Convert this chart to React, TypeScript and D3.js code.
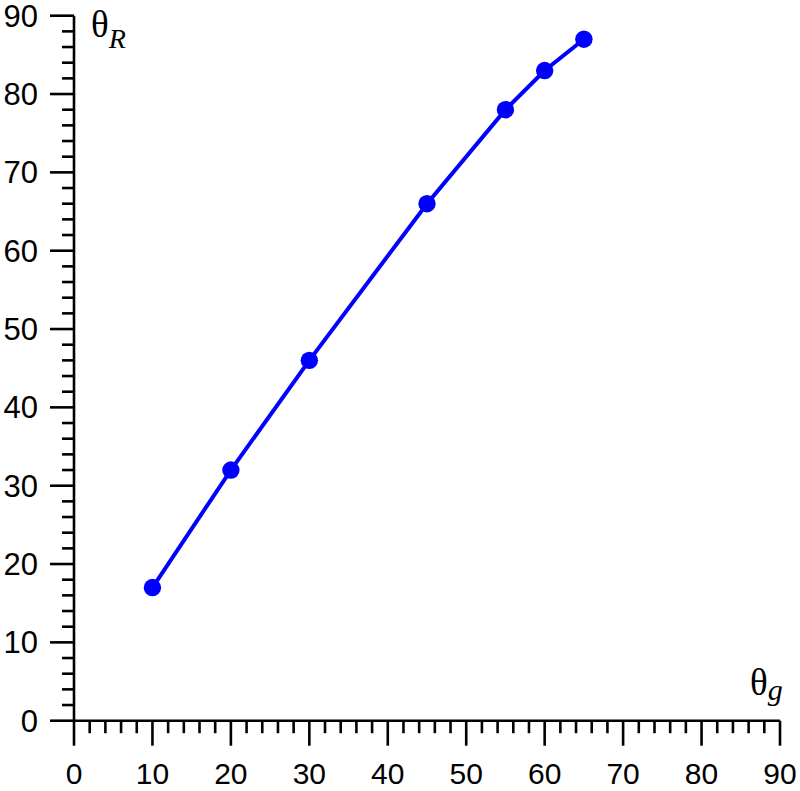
import { useEffect, useRef } from "react";
import * as d3 from "d3";

// theta_g (deg) vs theta_R (deg)
const thetaG = [10, 20, 30, 45, 55, 60, 65];
const thetaR = [17, 32, 46, 66, 78, 83, 87];
const majorTicks = [0, 10, 20, 30, 40, 50, 60, 70, 80, 90];
const minorTicks = d3.range(0, 91, 2);

const W = 800;
const H = 791;
const BLUE = "#0000ff";

export default function App() {
    const ref = useRef<SVGSVGElement | null>(null);

    useEffect(() => {
        if (!ref.current) return;
        const svg = d3.select(ref.current);
        svg.selectAll("*").remove();

        const x = d3.scaleLinear().domain([0, 90]).range([74, 780]);
        const y = d3.scaleLinear().domain([0, 90]).range([720.7, 15.7]);

        const axisColor = "#000";
        const sw = 2.6;
        const sans = "'Liberation Sans', Arial, sans-serif";

        // x axis
        const gx = svg.append("g");
        gx.append("line")
            .attr("x1", x(0)).attr("x2", x(90))
            .attr("y1", y(0)).attr("y2", y(0))
            .attr("stroke", axisColor).attr("stroke-width", sw);
        gx.selectAll("line.minor")
            .data(minorTicks)
            .enter()
            .append("line")
            .attr("x1", d => x(d)).attr("x2", d => x(d))
            .attr("y1", y(0))
            .attr("y2", d => y(0) + (d % 10 === 0 ? 25 : 12.5))
            .attr("stroke", axisColor).attr("stroke-width", sw);
        gx.selectAll("text")
            .data(majorTicks)
            .enter()
            .append("text")
            .attr("x", d => x(d))
            .attr("y", 784.3)
            .attr("text-anchor", "middle")
            .style("font-family", sans)
            .style("font-size", "30px")
            .text(d => d);

        // y axis
        const gy = svg.append("g");
        gy.append("line")
            .attr("x1", x(0)).attr("x2", x(0))
            .attr("y1", y(0)).attr("y2", y(90))
            .attr("stroke", axisColor).attr("stroke-width", sw);
        gy.selectAll("line.minor")
            .data(minorTicks)
            .enter()
            .append("line")
            .attr("y1", d => y(d)).attr("y2", d => y(d))
            .attr("x1", x(0))
            .attr("x2", d => x(0) - (d % 10 === 0 ? 24 : 12))
            .attr("stroke", axisColor).attr("stroke-width", sw);
        gy.selectAll("text")
            .data(majorTicks)
            .enter()
            .append("text")
            .attr("x", 38)
            .attr("y", d => y(d))
            .attr("dy", "0.355em")
            .attr("text-anchor", "end")
            .style("font-family", sans)
            .style("font-size", "31px")
            .text(d => d);

        // axis titles
        const serif = "'Liberation Serif', 'Times New Roman', serif";
        const tR = svg.append("text")
            .attr("x", 91).attr("y", 37)
            .style("font-family", serif)
            .style("font-size", "37px");
        tR.append("tspan").text("θ");
        tR.append("tspan").attr("dx", 0).attr("dy", 11).style("font-style", "italic").style("font-size", "28px").text("R");

        const tg = svg.append("text")
            .attr("x", 750).attr("y", 695)
            .style("font-family", serif)
            .style("font-size", "37px");
        tg.append("tspan").text("θ");
        tg.append("tspan").attr("dx", 0).attr("dy", 5).style("font-style", "italic").style("font-size", "30px").text("g");

        // series
        const pts = thetaG.map((g, i) => [g, thetaR[i]] as [number, number]);
        const line = d3.line<[number, number]>().x(d => x(d[0])).y(d => y(d[1]));
        svg.append("path")
            .attr("d", line(pts))
            .attr("fill", "none")
            .attr("stroke", BLUE)
            .attr("stroke-width", 4);
        svg.selectAll("circle")
            .data(pts)
            .enter()
            .append("circle")
            .attr("cx", d => x(d[0]))
            .attr("cy", d => y(d[1]))
            .attr("r", 8.7)
            .attr("fill", BLUE);
    }, []);

    return (
        <svg
            ref={ref}
            width={W}
            height={H}
            style={{ position: "absolute", left: 0, top: 0, background: "#fff" }}
        />
    );
}
